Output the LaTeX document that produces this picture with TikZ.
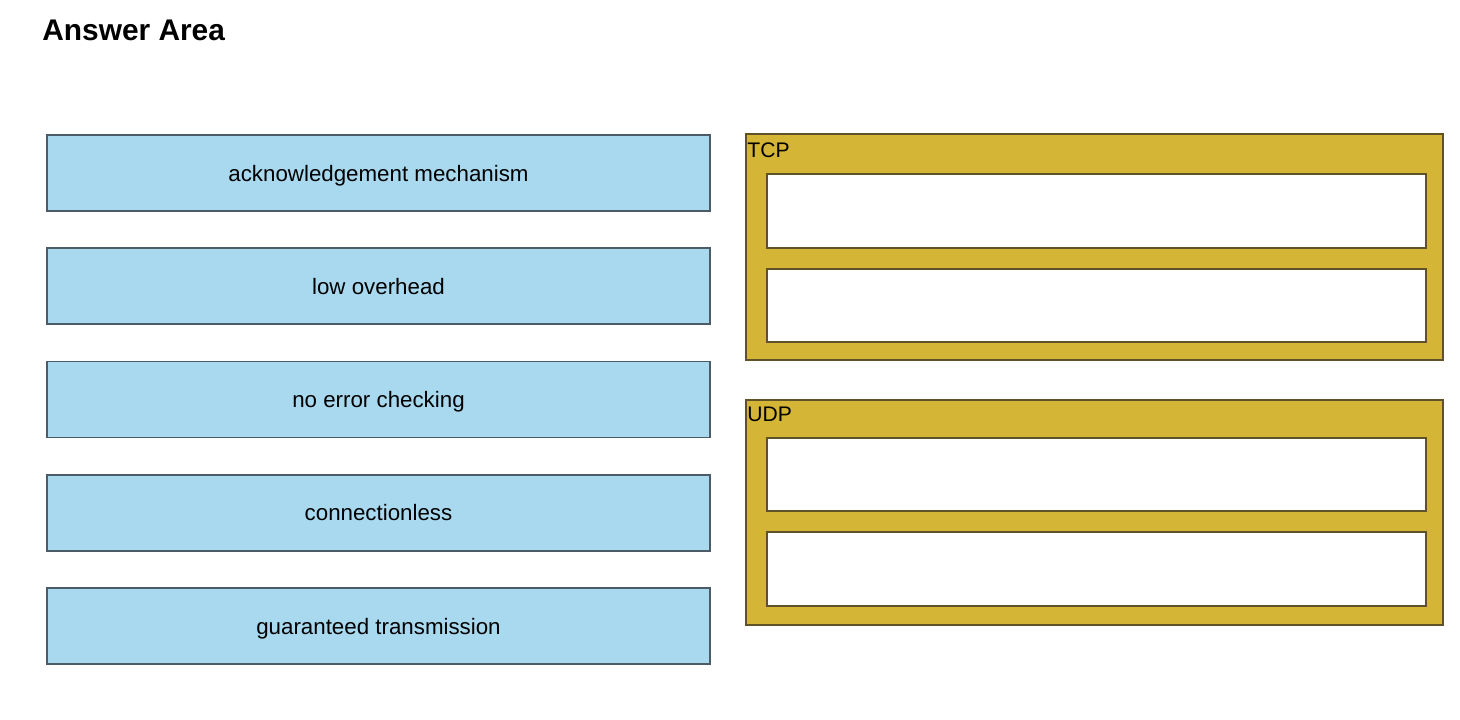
\documentclass[tikz,border=0pt]{standalone}
\usepackage{fontspec}
\setmainfont{Liberation Sans}
\usepackage{tikz}
\usetikzlibrary{arrows,positioning,shapes}

\definecolor{itemblue}{HTML}{A8D9EF}
\definecolor{itemedge}{HTML}{4B5B68}
\definecolor{gold}{HTML}{D5B535}
\definecolor{goldedge}{HTML}{5E5226}

\begin{document}
\begin{tikzpicture}[
            item/.style={draw=itemedge,fill=itemblue,line width=1.1pt,rectangle,minimum width=13.26cm,minimum height=1.52cm,text depth=0pt,font=\fontsize{12.7}{15}\selectfont,node distance=2.265cm},
            group/.style={draw=goldedge,fill=gold,line width=1pt,rectangle,minimum width=13.94cm,minimum height=4.51cm},
            slot/.style={draw=goldedge,fill=white,line width=1pt,rectangle,minimum width=13.18cm,minimum height=1.47cm,node distance=1.89cm},
            lab/.style={anchor=west,inner sep=0pt,font=\fontsize{12}{14}\selectfont}
          ]
          \useasboundingbox (0,0) rectangle (29.2,14.4);
          \node[anchor=west,inner sep=0pt,font=\fontsize{17}{20}\selectfont\bfseries] (title) at (0.84,13.8) {Answer Area};

          %items
          \node[item] (ack) at (7.57,10.94) {acknowledgement mechanism};
          \node[below of = ack,item] (low) {low overhead};
          \node[below of = low,item] (noerr) {no error checking};
          \node[below of = noerr,item] (conn) {connectionless};
          \node[below of = conn,item] (guar) {guaranteed transmission};

          %targets
          \node[group] (tcp) at (21.89,9.46) {};
          \node[group] (udp) at (21.89,4.15) {};
          \node[slot] (tcp1) at (21.93,10.18) {};
          \node[below of = tcp1,slot] (tcp2) {};
          \node[slot] (udp1) at (21.93,4.91) {};
          \node[below of = udp1,slot] (udp2) {};

          %labels
          \node[lab] at ([xshift=0.04cm,yshift=-0.33cm]tcp.north west) {TCP};
          \node[lab] at ([xshift=0.04cm,yshift=-0.31cm]udp.north west) {UDP};

      \end{tikzpicture}
\end{document}
